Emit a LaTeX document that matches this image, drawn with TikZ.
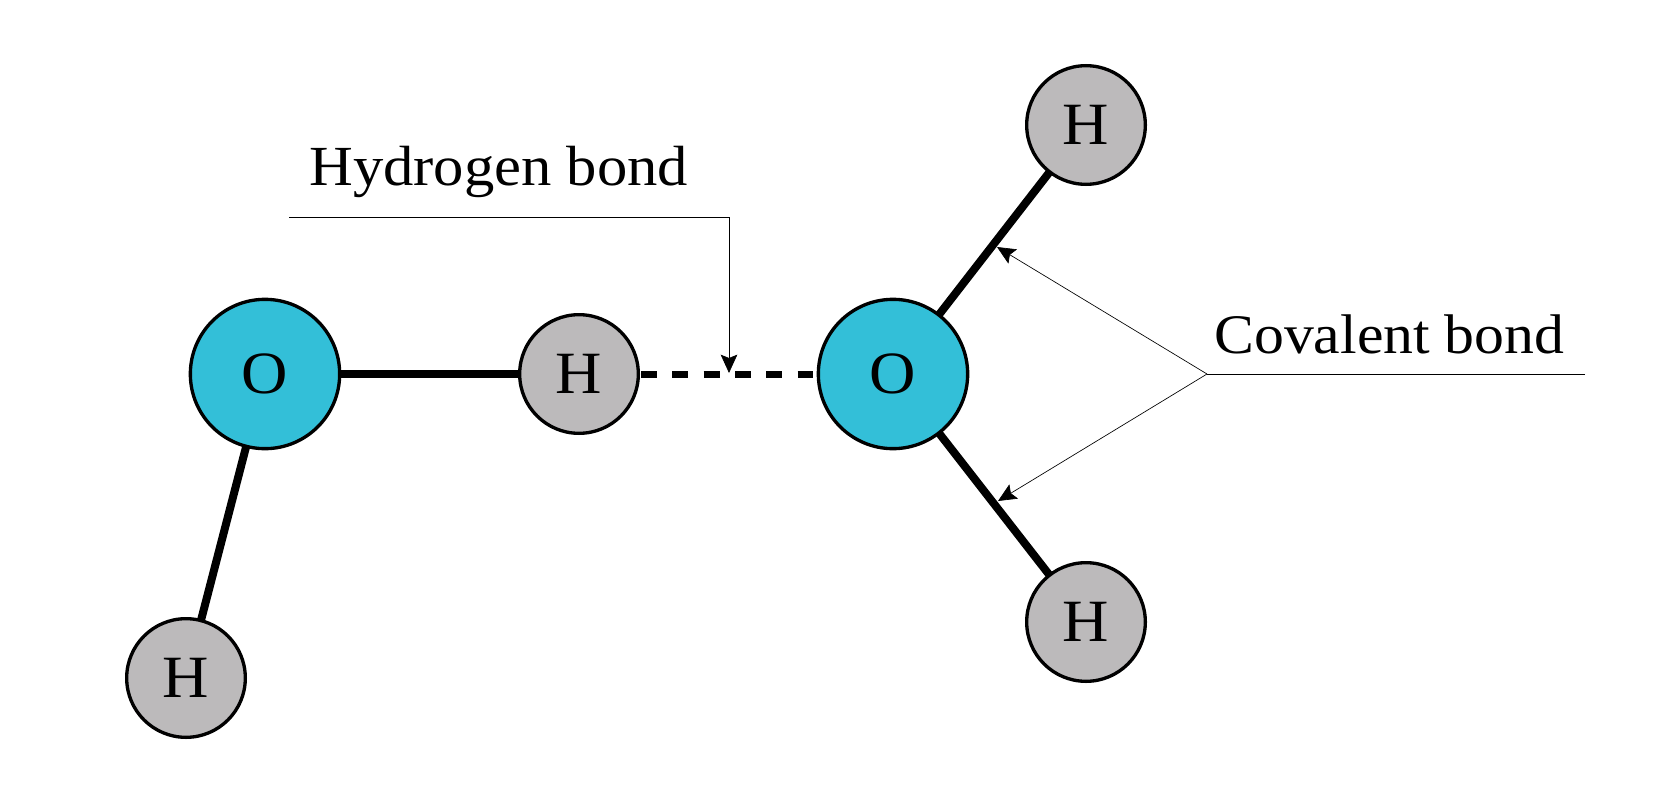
\documentclass[tikz,border=0pt]{standalone}
\usepackage{fontspec}
\setmainfont[FakeStretch=1.07]{Liberation Serif}
\usetikzlibrary{arrows.meta}
\definecolor{oxy}{HTML}{33BFD8}
\definecolor{hyd}{HTML}{BCBABB}
\definecolor{thin}{HTML}{222222}
\tikzset{
 oatom/.style={circle,draw=black,line width=2pt,fill=oxy,minimum size=89.6pt,inner sep=0pt,font=\fontsize{36}{36}\selectfont},
 hatom/.style={circle,draw=black,line width=2pt,fill=hyd,minimum size=71.2pt,inner sep=0pt,font=\fontsize{36}{36}\selectfont},
 bond/.style={line width=4.8pt,black},
 hbond/.style={line width=4.2pt,black,dash pattern=on 9.6pt off 9.2pt,shorten <=0.6pt,shorten >=2.2pt},
 leader/.style={line width=1pt,thin},
 arrowl/.style={leader,-{Stealth[length=11pt,width=10pt,inset=2pt]}},
 lab/.style={font=\fontsize{34}{34}\selectfont,inner sep=0pt},
 labc/.style={font=\fontsize{33.5}{34}\selectfont,inner sep=0pt}
}
\begin{document}
\begin{tikzpicture}[x=0.6pt,y=-0.6pt]
\useasboundingbox (0,0) rectangle (1668,796);
\coordinate (hbk) at (729,217);
\coordinate (hbs) at (289,217);
\coordinate (hbt) at (729,373);
\coordinate (cvj) at (1207,374);
\coordinate (cve) at (1585,374);
\coordinate (cvu) at (997,247);
\coordinate (cvd) at (998,501);
\draw[bond] (265,374) coordinate (c1) -- (579,374) coordinate (c2);
\draw[bond] (c1) -- (186,678) coordinate (c3);
\draw[bond] (893,374) coordinate (c4) -- (1086,125) coordinate (c5);
\draw[bond] (c4) -- (1086,622) coordinate (c6);
\node[oatom] (o1) at (c1) {O};
\node[oatom] (o2) at (c4) {O};
\node[hatom] (h1) at (c2) {H};
\node[hatom] (h2) at (c3) {H};
\node[hatom] (h3) at (c5) {H};
\node[hatom] (h4) at (c6) {H};
\draw[hbond] (h1) -- (o2);
\draw[leader] (hbs) -- (hbk);
\draw[arrowl] (hbk) -- (hbt);
\draw[leader] (cve) -- (cvj);
\draw[arrowl] (cvj) -- (cvu);
\draw[arrowl] (cvj) -- (cvd);
\node[lab,anchor=base west] (t1) at (309,185) {Hydrogen bond};
\node[labc,anchor=base west] (t2) at (1214,353) {Covalent bond};
\end{tikzpicture}
\end{document}
